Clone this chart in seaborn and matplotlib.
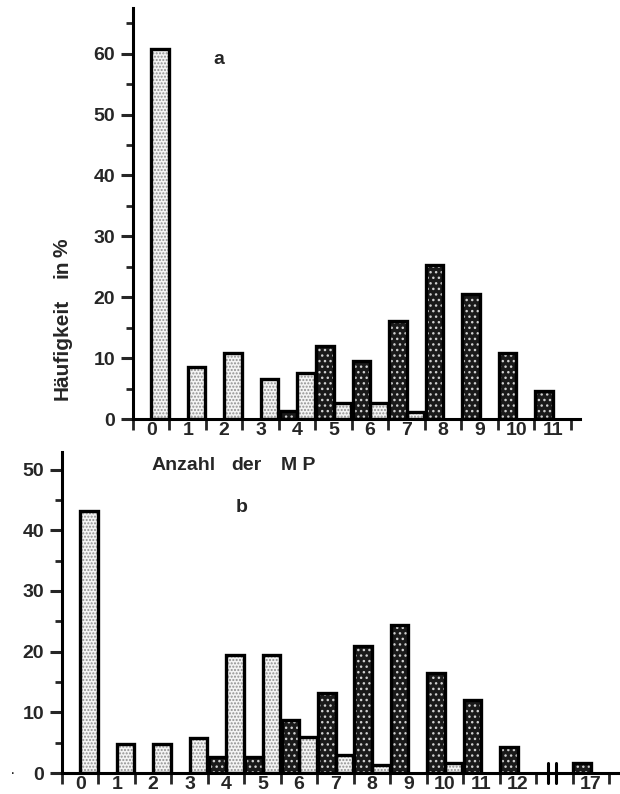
import pandas as pd
import numpy as np
import matplotlib.pyplot as plt
from matplotlib.patches import Rectangle
from matplotlib.ticker import FixedLocator
import seaborn as sns

# Daten aus der Abbildung (geschaetzt)
cats_a = [str(i) for i in range(12)]
light_a = [60.8, 8.5, 10.8, 6.6, 7.5, 2.6, 2.6, 1.2, 0, 0, 0, 0]
dark_a = [0, 0, 0, 0, 1.3, 12.0, 9.6, 16.1, 25.3, 20.5, 10.9, 4.6]

cats_b = [str(i) for i in range(13)] + ['17']
order_b = cats_b[:13] + [''] + ['17']
light_b = [43.2, 4.8, 4.8, 5.8, 19.4, 19.4, 6.0, 2.9, 1.4, 0, 1.6, 0, 0, 0]
dark_b = [0, 0, 0, 0, 2.7, 2.7, 8.8, 13.2, 21.0, 24.4, 16.4, 12.1, 4.3, 1.7]

series = ['dunkel', 'hell']


def long_df(cats, dark, light):
    df = pd.DataFrame({'MP': cats * 2,
                       'Wert': dark + light,
                       'Gruppe': ['dunkel'] * len(cats) + ['hell'] * len(cats)})
    return df[df['Wert'] > 0]


sns.set_style('white')
plt.rcParams['font.family'] = ['Liberation Sans', 'DejaVu Sans']
plt.rcParams['hatch.linewidth'] = 1.0

fig = plt.figure(figsize=(6.2, 7.94), dpi=100)
ax_a = fig.add_axes([133 / 620, 1 - 419 / 794, (580 - 133) / 620, (419 - 8) / 794])
ax_b = fig.add_axes([62 / 620, 1 - 773 / 794, (620 - 62) / 620, (773 - 452) / 794])

styles = {'dunkel': ('#1a1a1a', '#d0d0d0', '...'),
          'hell': ('#f4f4f4', '#8f8f8f', '.....')}


def draw(ax, df, order, ymax, xmax, ymajor, yminor_top):
    sns.barplot(data=df, x='MP', y='Wert', hue='Gruppe', order=order,
                hue_order=series, palette=[styles[s][0] for s in series],
                width=0.96, dodge=True, legend=False, ax=ax)
    for cont, s in zip(ax.containers, series):
        face, hcol, hatch = styles[s]
        for p in cont:
            p.set_hatch(hatch)
            p.set_edgecolor(hcol)
            p.set_linewidth(0)
            ax.add_patch(Rectangle(p.get_xy(), p.get_width(), p.get_height(),
                                   fill=False, ec='black', lw=2.4, zorder=3))
    ax.set_xlim(-0.5, xmax)
    ax.set_ylim(0, ymax)
    sns.despine(ax=ax)
    for sp in ['left', 'bottom']:
        ax.spines[sp].set_linewidth(2.2)
        ax.spines[sp].set_color('black')
    ax.set_xlabel('')
    ax.set_ylabel('')
    # y-Achse
    ax.yaxis.set_major_locator(FixedLocator(ymajor))
    ax.yaxis.set_minor_locator(FixedLocator(np.arange(5, yminor_top, 10)))
    ax.tick_params(axis='y', which='major', length=9, width=2.2, pad=4,
                   labelsize=14, direction='out', left=True)
    ax.tick_params(axis='y', which='minor', length=5, width=2.0,
                   direction='out', left=True)
    # x-Achse: Beschriftung in der Mitte, Striche an den Grenzen
    n = len(order)
    ax.set_xticks(range(n))
    ax.set_xticklabels(order)
    ax.xaxis.set_minor_locator(FixedLocator(np.arange(-0.5, n, 1.0)))
    ax.tick_params(axis='x', which='major', length=0, pad=2, labelsize=14,
                   bottom=True)
    ax.tick_params(axis='x', which='minor', length=8, width=2.0,
                   direction='out', bottom=True)
    for lab in ax.get_xticklabels() + ax.get_yticklabels():
        lab.set_fontweight('bold')


draw(ax_a, long_df(cats_a, dark_a, light_a), cats_a, 67.5, 11.75,
     range(0, 61, 10), 66)
draw(ax_b, long_df(cats_b, dark_b, light_b), order_b, 52.9, 14.8,
     range(0, 51, 10), 46)

# Achsenbruch zwischen 12 und 17
for xb in [12.83, 13.05]:
    ax_b.plot([xb, xb], [-1.7, 1.7], color='black', lw=2.2, clip_on=False, zorder=4)

fig.text(219 / 620, 1 - 60 / 794, 'a', ha='center', va='center',
         fontsize=14, fontweight='bold')
fig.text(242 / 620, 1 - 507 / 794, 'b', ha='center', va='center',
         fontsize=14, fontweight='bold')

# Achsentitel, Woerter einzeln gesetzt (weite Sperrung wie im Original)
for word, xc in [('Anzahl', 183.5), ('der', 246.5), ('M P', 298.5)]:
    fig.text(xc / 620, 1 - 465 / 794, word, ha='center', va='center',
             fontsize=14, fontweight='bold')
for word, yc in [('Häufigkeit', 349), ('in', 268.5), ('%', 248)]:
    fig.text(62 / 620, 1 - yc / 794, word, ha='center', va='center',
             rotation=90, fontsize=15, fontweight='bold')
fig.text(13 / 620, 1 - 773 / 794, '·', ha='center', va='center', fontsize=12)

plt.savefig('out.png', dpi=100)
